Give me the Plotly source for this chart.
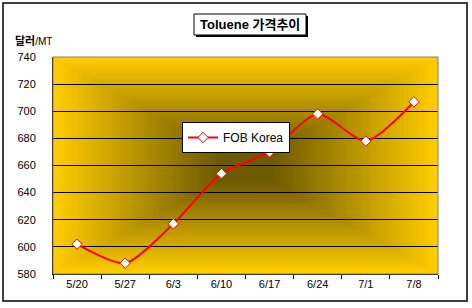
import plotly.graph_objects as go

categories = ["5/20", "5/27", "6/3", "6/10", "6/17", "6/24", "7/1", "7/8"]
fob_korea = [602, 588, 617, 654, 670, 698, 678, 707]
y_ticks = [580, 600, 620, 640, 660, 680, 700, 720, 740]

W, H = 472, 308
L, R, T, B = 53, 34, 57, 34
pw, ph = W - L - R, H - T - B

def px_x(p):
    return (p - L) / pw

def px_y(p):
    return (H - B - p) / ph

fig = go.Figure()
fig.add_trace(go.Scatter(
    x=categories, y=fob_korea, name="FOB Korea",
    mode="lines+markers",
    line=dict(color="#FF0000", width=2, shape="spline", smoothing=0.7),
    marker=dict(symbol="diamond", size=8, color="white", line=dict(color="#FF0000", width=1)),
))

shapes = []
# rectangular "from center" gradient background
gold = (255, 204, 0)
dark = (110, 90, 0)
N = 40
for i in range(N):
    s = 1 - i / N
    t = min(1.0, (1 - s) / 0.85)
    c = tuple(int(round(g + (d - g) * t)) for g, d in zip(gold, dark))
    shapes.append(dict(type="rect", xref="x domain", yref="y domain",
                       x0=0.5 - 0.5 * s, x1=0.5 + 0.5 * s, y0=0.5 - 0.5 * s, y1=0.5 + 0.5 * s,
                       fillcolor="rgb(%d,%d,%d)" % c, line=dict(width=0), layer="below"))
# plot area frame (gray top/right)
shapes.append(dict(type="rect", xref="x domain", yref="y domain", x0=0, x1=1, y0=0, y1=1,
                   line=dict(color="#808080", width=1), layer="above"))
# outer chart border
shapes.append(dict(type="rect", xref="paper", yref="paper",
                   x0=px_x(3), x1=px_x(467), y0=px_y(301), y1=px_y(3),
                   line=dict(color="black", width=1.5), layer="above"))
# title box shadow
shapes.append(dict(type="rect", xref="paper", yref="paper",
                   x0=px_x(196), x1=px_x(308), y0=px_y(37), y1=px_y(16),
                   fillcolor="black", line=dict(width=0), layer="above"))
shapes.append(dict(type="rect", xref="paper", yref="paper",
                   x0=px_x(194), x1=px_x(306), y0=px_y(35), y1=px_y(14),
                   fillcolor="white", line=dict(color="black", width=1), layer="above"))

annotations = [
    dict(text="<b>Toluene 가격추이</b>", xref="paper", yref="paper",
         x=px_x(250), y=px_y(24.5), xanchor="center", yanchor="middle", showarrow=False,
         font=dict(family="Liberation Sans, Noto Sans CJK KR", size=13, color="black")),
    dict(text="<b>달러</b><span style='font-size:10px'>/MT</span>", xref="paper", yref="paper",
         x=px_x(13), y=px_y(41), xanchor="left", yanchor="middle", showarrow=False,
         font=dict(family="Liberation Sans, Noto Sans CJK KR", size=11, color="black")),
]

fig.update_layout(
    width=W, height=H,
    margin=dict(l=L, r=R, t=T, b=B),
    paper_bgcolor="white", plot_bgcolor="#FFCC00",
    shapes=shapes, annotations=annotations,
    showlegend=True,
    legend=dict(x=px_x(182), y=px_y(122), xanchor="left", yanchor="top",
                bgcolor="white", bordercolor="black", borderwidth=1,
                font=dict(family="Liberation Sans", size=12, color="black"),
                itemwidth=30, tracegroupgap=0),
    xaxis=dict(type="category", categoryorder="array", categoryarray=categories,
               showgrid=False, zeroline=False, showline=True, linecolor="black", linewidth=1,
               ticks="outside", tickson="boundaries", ticklen=4, tickcolor="black",
               tickfont=dict(family="Liberation Sans", size=11, color="black"),
               range=[-0.5, len(categories) - 0.5]),
    yaxis=dict(range=[580, 740], tickvals=y_ticks, showgrid=True, gridcolor="black", gridwidth=1,
               zeroline=False, showline=True, linecolor="black", linewidth=1, ticks="",
               ticklabelstandoff=14,
               tickfont=dict(family="Liberation Sans", size=11, color="black")),
)

fig.write_html("out.html")
